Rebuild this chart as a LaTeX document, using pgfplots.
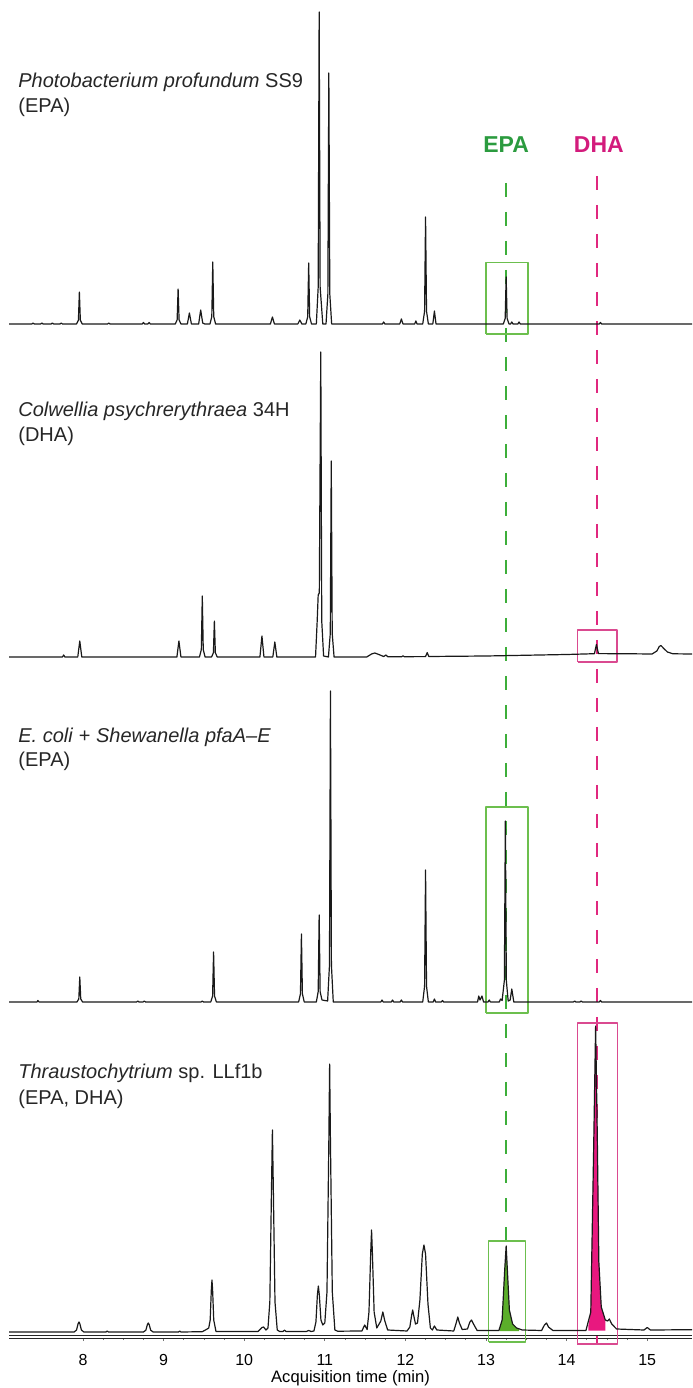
\documentclass[border=0pt]{standalone}
\usepackage{fontspec}
\setmainfont{Liberation Sans}
\usepackage{pgfplots}
\usepackage{pgfplotstable}
\pgfplotsset{compat=1.18}
\definecolor{epatext}{HTML}{2B9B3F}
\definecolor{epaline}{HTML}{3DAE3A}
\definecolor{epabox}{HTML}{6CBF4E}
\definecolor{epafill}{HTML}{5BAE2A}
\definecolor{dhatext}{HTML}{D31B7C}
\definecolor{dhaline}{HTML}{E0287F}
\definecolor{dhabox}{HTML}{DA4A90}
\definecolor{dhafill}{HTML}{E8187F}

% Photobacterium profundum SS9 (height above baseline, px)
\pgfplotstableread{
x h
7.0819 0
7.365 0
7.38 1
7.395 0
7.475 0
7.49 1
7.505 0
7.605 0
7.62 1
7.635 0
7.715 0
7.73 1
7.745 0
7.92 0
7.943 3.8
7.955 32
7.967 3.8
7.99 0
8.305 0
8.32 1
8.335 0
8.735 0
8.75 1.5
8.765 0
8.805 0
8.82 1.5
8.835 0
9.145 0
9.168 4.2
9.18 35
9.192 4.2
9.215 0
9.295 0
9.32 11
9.345 0
9.435 0
9.46 14
9.485 1
9.51 0
9.575 0
9.598 7.4
9.61 62
9.622 7.4
9.645 0
10.325 0
10.35 7
10.375 0
10.665 0
10.69 4
10.715 0
10.765 0
10.788 7.3
10.80 61
10.812 7.3
10.835 0
10.895 0
10.918 37
10.93 312
10.942 37
10.975 0
11.015 0
11.038 30
11.05 251
11.062 30
11.085 0
11.715 0
11.73 2
11.745 0
11.93 0
11.95 5
11.97 0
12.115 0
12.13 3
12.145 0
12.215 0
12.238 12.8
12.25 107
12.262 12.8
12.285 0
12.34 0
12.36 13
12.38 0
13.215 0
13.238 5.6
13.25 47
13.262 5.6
13.285 0
13.305 0
13.32 2
13.335 0
13.395 0
13.41 2
13.425 0
14.405 0
14.42 1.5
14.435 0
15.5558 0
}\pone

% Colwellia psychrerythraea 34H
\pgfplotstableread{
x h
7.0819 0
7.745 0
7.76 2
7.775 0
7.935 0
7.96 16
7.985 0
9.165 0
9.19 16
9.215 0
9.445 0
9.468 7.3
9.48 61
9.492 7.3
9.515 0
9.595 0
9.618 4.3
9.63 36
9.642 4.3
9.665 0
10.195 0
10.22 21
10.245 0
10.355 0
10.38 15
10.405 0
10.885 0
10.905 35
10.918 62
10.932 64
10.95 305
10.962 36
10.985 1
11.045 0
11.068 23.5
11.08 196
11.092 23.5
11.115 0
11.52 0
11.58 3
11.62 4
11.67 2.5
11.73 0.5
11.76 2
11.78 0.3
11.955 0.3
11.97 1.2
11.985 0.3
12.25 0.4
12.27 4.4
12.29 0.5
13.0 1
14.0 2.5
14.345 3.3
14.37 12.5
14.395 3.4
14.8 3.2
15.06 3
15.12 6
15.15 10.5
15.17 11.5
15.20 9
15.25 5
15.32 3.2
15.5558 3
}\ptwo

% E. coli + Shewanella pfaA-E
\pgfplotstableread{
x h
7.0819 0
7.43 0
7.44 1.5
7.455 0
7.925 0
7.948 3
7.96 25
7.972 3
7.995 0
8.665 0
8.68 1
8.695 0
8.745 0
8.76 1
8.775 0
9.465 0
9.48 1
9.495 0
9.585 0
9.608 6
9.62 50
9.632 6
9.655 0
10.675 0
10.698 8.2
10.71 68
10.722 8.2
10.745 0
10.895 0
10.918 10.4
10.93 87
10.942 10.4
10.965 2
11.035 1
11.058 37
11.07 311
11.082 37
11.105 0
11.695 0
11.71 2
11.725 0
11.825 0
11.84 2
11.855 0
11.935 0
11.95 2
11.965 0
12.215 0
12.238 15.8
12.25 132
12.262 15.8
12.285 0
12.345 0
12.36 3
12.375 0
12.445 0
12.46 1.5
12.475 0
12.895 0
12.91 6
12.925 2
12.95 6
12.97 0
13.025 0
13.04 2
13.055 0
13.165 0
13.18 3
13.2 1.5
13.228 21.7
13.24 181
13.252 21.7
13.275 1
13.3 2
13.32 13
13.345 0
14.085 0
14.1 1
14.115 0
14.165 0
14.18 1
14.195 0
14.405 0
14.42 1.5
14.435 0
15.5558 0
}\pthree

% Thraustochytrium sp. LLf1b
\pgfplotstableread{
x h
7.0819 0
7.89 0
7.92 2
7.938 8
7.95 10
7.962 8
7.98 2
8.01 0
8.285 0
8.30 1
8.315 0
8.75 0
8.78 1.8
8.798 7.2
8.81 9
8.822 7.2
8.84 1.8
8.87 0
9.185 0
9.2 1
9.215 0
9.48 0.3
9.53 2.5
9.56 4
9.578 12
9.592 42
9.60 52
9.608 42
9.622 12
9.65 0.5
10.17 0.5
10.22 4.5
10.24 5
10.27 2
10.295 4
10.318 30
10.338 140
10.35 202
10.362 140
10.382 30
10.41 2
10.44 0.5
10.48 0.5
10.50 1.8
10.52 0.5
10.77 0.5
10.80 1.5
10.83 0.5
10.865 1
10.89 10
10.908 37
10.92 46
10.932 37
10.952 12
10.975 7
11.0 9
11.027 40
11.05 190
11.06 268
11.07 190
11.093 40
11.125 2
11.16 0.8
11.46 1
11.495 7
11.525 2.5
11.548 20
11.57 80
11.58 102
11.59 80
11.612 20
11.645 4
11.695 11
11.72 20
11.745 11
11.78 2
12.02 1
12.055 5
12.078 17
12.09 22
12.102 17
12.125 8
12.15 9
12.18 32
12.21 78
12.23 87
12.25 78
12.28 28
12.31 4
12.335 2
12.36 6
12.39 2
12.60 1
12.63 9
12.65 15
12.67 9
12.705 2.5
12.77 3
12.80 10
12.82 12
12.845 8
12.89 1.5
13.16 1.5
13.20 12
13.232 62
13.25 86
13.265 62
13.29 22
13.33 8
13.38 4
13.45 2
13.69 1.5
13.725 7
13.75 9
13.775 5
13.83 1.5
14.24 1.5
14.30 20
14.335 180
14.36 306
14.38 200
14.40 70
14.43 25
14.48 12
14.51 11
14.53 13
14.56 8
14.62 3
14.96 2
15.0 4.5
15.04 2
15.5558 2.3
}\pfour

\pgfplotstableread{
x h
13.17 1
13.17 3.5
13.20 12
13.232 62
13.25 86
13.265 62
13.29 22
13.33 8
13.38 4
13.41 3
13.41 1
}\greenfill

\pgfplotstableread{
x h
14.27 1.5
14.27 6
14.30 20
14.335 180
14.36 306
14.38 200
14.40 70
14.43 25
14.48 12
14.48 1.5
}\pinkfill

\begin{document}
\begin{tikzpicture}
\begin{axis}[
  scale only axis, width=341.5pt, height=668.5pt,
  xmin=7.0819, xmax=15.5558, ymin=51, ymax=1388,
  axis x line*=bottom, axis y line=none, ytick=\empty,
  x axis line style={-, line width=0.45pt, double distance=0.7pt, draw=black!85},
  xtick={8,...,15}, minor x tick num=3,
  tick align=outside, major tick length=2pt, minor tick length=1.5pt,
  every tick/.style={black!55, line width=0.4pt},
  xticklabel style={font=\fontsize{8}{9}\selectfont, yshift=-3pt},
  /pgf/number format/assume math mode=true,
  xlabel={Acquisition time (min)},
  xlabel style={font=\fontsize{8.3}{10}\selectfont, at={(axis description cs:0.5,0)}, anchor=center, yshift=-20.5pt},
  clip=false,
  every axis plot/.append style={line join=round},
]
% dashed marker lines
\addplot[epaline, line width=1pt, dash pattern=on 7pt off 7.5pt] coordinates {(13.25,1205) (13.25,46)};
\addplot[dhaline, line width=1pt, dash pattern=on 7pt off 7.5pt] coordinates {(14.38,1212) (14.38,44)};
% boxes
\addplot[epabox, line width=0.7pt] coordinates {(13.0,1054) (13.52,1054) (13.52,1125.5) (13.0,1125.5) (13.0,1054)};
\addplot[dhabox, line width=0.7pt] coordinates {(14.137,726) (14.625,726) (14.625,758) (14.137,758) (14.137,726)};
\addplot[epabox, line width=0.7pt] coordinates {(13.0,375) (13.52,375) (13.52,581) (13.0,581) (13.0,375)};
\addplot[epabox, line width=0.7pt] coordinates {(13.033,46) (13.49,46) (13.49,147) (13.033,147) (13.033,46)};
\addplot[dhabox, line width=0.7pt] coordinates {(14.133,44) (14.634,44) (14.634,365) (14.133,365) (14.133,44)};
% fills
\addplot[fill=epafill, draw=none] table[x=x, y expr=\thisrow{h}+56] {\greenfill};
\addplot[fill=dhafill, draw=none] table[x=x, y expr=\thisrow{h}+56] {\pinkfill};
% traces
\addplot[black!90, line width=0.6pt] table[x=x, y expr=\thisrow{h}+1064] {\pone};
\addplot[black!90, line width=0.6pt] table[x=x, y expr=\thisrow{h}+731] {\ptwo};
\addplot[black!90, line width=0.6pt] table[x=x, y expr=\thisrow{h}+386] {\pthree};
\addplot[black!90, line width=0.6pt] table[x=x, y expr=\thisrow{h}+56] {\pfour};
% labels
\node[anchor=base west, inner sep=0, font=\fontsize{10}{12}\selectfont, text=black!85] at (axis cs:7.1935,1300) {\textit{Photobacterium profundum} SS9};
\node[anchor=base west, inner sep=0, font=\fontsize{10}{12}\selectfont, text=black!85] at (axis cs:7.1935,1275) {(EPA)};
\node[anchor=base west, inner sep=0, font=\fontsize{10}{12}\selectfont, text=black!85] at (axis cs:7.1935,971) {\textit{Colwellia psychrerythraea} 34H};
\node[anchor=base west, inner sep=0, font=\fontsize{10}{12}\selectfont, text=black!85] at (axis cs:7.1935,946) {(DHA)};
\node[anchor=base west, inner sep=0, font=\fontsize{10}{12}\selectfont, text=black!85] at (axis cs:7.1935,645) {\textit{E. coli} + \textit{Shewanella pfaA–E}};
\node[anchor=base west, inner sep=0, font=\fontsize{10}{12}\selectfont, text=black!85] at (axis cs:7.1935,621) {(EPA)};
\node[anchor=base west, inner sep=0, font=\fontsize{10}{12}\selectfont, text=black!85] at (axis cs:7.1935,309) {\textit{Thraustochytrium} sp. LLf1b};
\node[anchor=base west, inner sep=0, font=\fontsize{10}{12}\selectfont, text=black!85] at (axis cs:7.1935,284) {(EPA, DHA)};
\node[font=\bfseries\fontsize{11.5}{13}\selectfont, text=epatext] at (axis cs:13.25,1243) {EPA};
\node[font=\bfseries\fontsize{11.5}{13}\selectfont, text=dhatext] at (axis cs:14.40,1243) {DHA};
\coordinate (BL) at (axis cs:6.9702,0);
\coordinate (TR) at (axis cs:15.5558,1388);
\end{axis}
\pgfresetboundingbox
\useasboundingbox (BL) rectangle (TR);
\end{tikzpicture}
\end{document}
